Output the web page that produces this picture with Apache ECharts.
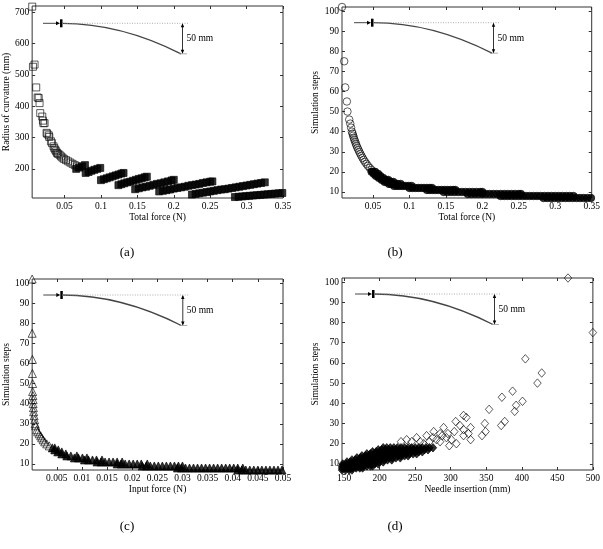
<!DOCTYPE html>
<html>
<head>
<meta charset="utf-8">
<script src="https://cdn.jsdelivr.net/npm/echarts@6/dist/echarts.min.js"></script>
<style>
html, body { margin: 0; padding: 0; background: #fff; }
#chart { width: 603px; height: 549px; }
</style>
</head>
<body>
<div id="chart"></div>
<script>
// ---- data ----
// (a) radius of curvature vs total force
const curvSparse = [
  [0.0056, 718], [0.0088, 533], [0.0066, 526], [0.0111, 460], [0.013, 428], [0.0145, 426],
  [0.0157, 410], [0.0166, 378], [0.0194, 367], [0.0203, 354], [0.021, 346], [0.0226, 346],
  [0.0253, 315], [0.0262, 312], [0.0283, 307], [0.029, 302], [0.0313, 288], [0.0327, 282],
  [0.0349, 272], [0.036, 266], [0.0372, 261], [0.0385, 256], [0.0396, 251], [0.041, 248],
  [0.0431, 245], [0.045, 240], [0.047, 236], [0.049, 232], [0.052, 228], [0.055, 224],
  [0.058, 220], [0.061, 216], [0.064, 212], [0.067, 208]
];
const curvBandForce = [
  [0.066, 0.07, 0.074, 0.078],
  [0.079, 0.083, 0.087, 0.091, 0.095, 0.099],
  [0.1, 0.104, 0.108, 0.112, 0.116, 0.12, 0.124, 0.128, 0.131],
  [0.124, 0.128, 0.132, 0.136, 0.14, 0.144, 0.148, 0.152, 0.156, 0.16, 0.163],
  [0.147, 0.152, 0.157, 0.162, 0.167, 0.172, 0.177, 0.182, 0.187, 0.192, 0.197, 0.2],
  [0.18, 0.185, 0.19, 0.195, 0.2, 0.205, 0.21, 0.215, 0.22, 0.225, 0.23, 0.235, 0.24, 0.245, 0.25, 0.253],
  [0.225, 0.23, 0.235, 0.24, 0.245, 0.25, 0.255, 0.26, 0.265, 0.27, 0.275, 0.28, 0.285, 0.29, 0.295, 0.3, 0.305, 0.31, 0.315, 0.32, 0.325],
  [0.284, 0.289, 0.294, 0.299, 0.304, 0.309, 0.314, 0.319, 0.324, 0.329, 0.334, 0.339, 0.344, 0.349]
];
const curvBandRadius = [
  [200, 204, 208, 212],
  [187, 190, 194, 197, 200, 203],
  [164, 167, 170, 173, 176, 179, 182, 185, 187],
  [148, 151, 154, 157, 159, 162, 165, 168, 170, 173, 175],
  [135, 138, 141, 143, 146, 149, 152, 154, 157, 160, 163, 165],
  [128, 130, 132, 134, 137, 139, 141, 143, 146, 148, 150, 152, 155, 157, 159, 160],
  [118, 120, 122, 124, 126, 128, 130, 132, 134, 135, 137, 139, 141, 143, 145, 147, 149, 151, 153, 155, 157],
  [110, 111, 112, 113, 114, 115, 116, 117, 118, 119, 120, 121, 122, 123]
];

// (b) simulation steps vs total force
const stepsForceSparse = [
  [0.0075, 102], [0.0105, 75], [0.0119, 62], [0.0142, 55], [0.015, 50], [0.0174, 46],
  [0.0188, 44], [0.02, 42], [0.0211, 40], [0.022, 39], [0.0228, 38], [0.0236, 37],
  [0.0245, 36], [0.0255, 35], [0.0265, 34], [0.0275, 33], [0.0287, 32], [0.03, 31],
  [0.0312, 30], [0.0326, 29], [0.034, 28], [0.0356, 27], [0.0372, 26], [0.039, 25],
  [0.041, 24], [0.043, 23], [0.0455, 22], [0.048, 21]
];
const stepsForceLevels = [7, 8, 9, 10, 11, 12, 13, 14, 15, 16, 17, 18, 19, 20];
const stepsForceX = [
  [0.284, 0.289, 0.294, 0.299, 0.304, 0.309, 0.314, 0.319, 0.324, 0.329, 0.334, 0.339, 0.344, 0.349],
  [0.225, 0.23, 0.235, 0.24, 0.245, 0.25, 0.255, 0.26, 0.265, 0.27, 0.275, 0.28, 0.285, 0.29, 0.295, 0.3, 0.305, 0.31, 0.315, 0.32, 0.325],
  [0.18, 0.185, 0.19, 0.195, 0.2, 0.205, 0.21, 0.215, 0.22, 0.225, 0.23, 0.235, 0.24, 0.245, 0.25, 0.253],
  [0.147, 0.152, 0.157, 0.162, 0.167, 0.172, 0.177, 0.182, 0.187, 0.192, 0.197, 0.2],
  [0.124, 0.128, 0.132, 0.136, 0.14, 0.144, 0.148, 0.152, 0.156, 0.16, 0.163],
  [0.1, 0.104, 0.108, 0.112, 0.116, 0.12, 0.124, 0.128, 0.131],
  [0.079, 0.083, 0.087, 0.091, 0.095, 0.099, 0.103],
  [0.072, 0.075, 0.078, 0.081, 0.084, 0.088],
  [0.066, 0.069, 0.072, 0.075, 0.078],
  [0.062, 0.065, 0.068, 0.071],
  [0.058, 0.061, 0.064],
  [0.054, 0.057, 0.06],
  [0.051, 0.054, 0.057],
  [0.048, 0.05, 0.053]
];

// (c) simulation steps vs input force
const stepsInputSparse = [
  [0.0001, 102], [0.0001, 75], [0.00015, 62], [0.00015, 55], [0.0002, 50], [0.0002, 46],
  [0.00025, 44], [0.0003, 42], [0.0003, 40], [0.00035, 38], [0.0004, 36], [0.0005, 34],
  [0.0006, 32], [0.0007, 30], [0.0008, 29], [0.001, 27], [0.0012, 26], [0.0015, 25],
  [0.0018, 24], [0.002, 23], [0.0023, 22], [0.0026, 21], [0.003, 20], [0.0035, 19]
];
const stepsInputLevels = [7, 8, 9, 10, 11, 12, 13, 14, 15, 16, 17, 18];
const stepsInputX = [
  [0.041, 0.0418, 0.0426, 0.0434, 0.0442, 0.045, 0.0458, 0.0466, 0.0474, 0.0482, 0.049, 0.0498],
  [0.029, 0.0298, 0.0306, 0.0314, 0.0322, 0.033, 0.0338, 0.0346, 0.0354, 0.0362, 0.037, 0.0378, 0.0386, 0.0394, 0.0402, 0.041, 0.042],
  [0.022, 0.0228, 0.0236, 0.0244, 0.0252, 0.026, 0.0268, 0.0276, 0.0284, 0.0292, 0.03],
  [0.017, 0.0178, 0.0186, 0.0194, 0.0202, 0.021, 0.0218, 0.023],
  [0.013, 0.0138, 0.0146, 0.0154, 0.0162, 0.017, 0.018],
  [0.0105, 0.0113, 0.0121, 0.0129, 0.014],
  [0.0085, 0.0093, 0.0101, 0.011],
  [0.007, 0.0078, 0.009],
  [0.006, 0.0068],
  [0.0052, 0.006],
  [0.0046, 0.0053],
  [0.0041, 0.0046]
];

// (d) simulation steps vs needle insertion
const stepsInsertSparse = [
  [465, 102], [500, 75], [405, 62], [428, 55], [422, 50], [387, 46], [372, 43], [401, 41],
  [392, 39], [390, 36], [354, 37], [376, 31], [371, 29], [348, 30], [349, 26], [344, 24],
  [318, 34], [322, 33], [307, 31], [328, 28], [325, 25], [328, 22], [318, 27], [313, 29],
  [318, 24], [290, 28], [285, 25], [294, 23], [276, 26], [266, 24], [252, 23], [257, 21],
  [301, 22], [308, 20], [298, 19], [285, 21], [280, 22], [270, 21], [262, 20], [245, 21],
  [238, 22], [230, 21], [305, 26], [296, 25], [288, 24], [275, 23]
];
const stepsInsertLevels = [7, 8, 9, 10, 11, 12, 13, 14, 15, 16, 17, 18];
const stepsInsertX = [
  [147, 152, 157, 161],
  [147, 152, 157, 162, 167, 172, 176],
  [147, 152, 157, 162, 167, 172, 177, 182, 187, 190],
  [148, 153, 158, 163, 168, 173, 178, 183, 188, 193, 198],
  [154, 159, 164, 169, 174, 179, 184, 189, 194, 199, 205],
  [161, 166, 171, 176, 181, 186, 191, 196, 201, 206, 211, 217],
  [168, 173, 178, 183, 188, 193, 198, 203, 208, 213, 218, 223, 229],
  [175, 180, 185, 190, 195, 200, 205, 210, 215, 220, 225, 230, 235, 240],
  [182, 187, 192, 197, 202, 207, 212, 217, 222, 227, 232, 237, 242, 247, 252],
  [190, 195, 200, 205, 210, 215, 220, 225, 230, 235, 240, 245, 250, 255, 260],
  [198, 203, 208, 213, 218, 223, 228, 233, 238, 243, 248, 253, 258, 263, 268],
  [205, 210, 215, 220, 225, 230, 235, 240, 245, 250, 255, 260, 265, 270, 275]
];

// tick positions
const forceTicks = [0.05, 0.1, 0.15, 0.2, 0.25, 0.3, 0.35];
const radiusTicks = [200, 300, 400, 500, 600, 700];
const stepTicks = [10, 20, 30, 40, 50, 60, 70, 80, 90, 100];
const inputTicks = [0.005, 0.01, 0.015, 0.02, 0.025, 0.03, 0.035, 0.04, 0.045, 0.05];
const insertTicks = [150, 200, 250, 300, 350, 400, 450, 500];

// ---- chart ----
const serif = '"Liberation Serif", "Times New Roman", serif';
const frameColor = '#333';

const grids = [
  { left: 32, top: 6, width: 251, height: 192 },
  { left: 342, top: 7, width: 251, height: 191 },
  { left: 32, top: 279, width: 251, height: 191 },
  { left: 342, top: 278, width: 251, height: 192 }
].map(g => ({ ...g, show: true, borderColor: frameColor, borderWidth: 1, backgroundColor: 'transparent' }));

const xAxes = [];
const yAxes = [];
function addAxes(gi, xMin, xMax, xTicks, xName, yMin, yMax, yTicks, yName) {
  const common = { gridIndex: gi, type: 'value', axisLine: { show: false }, splitLine: { show: false } };
  const tick = ticks => ({ show: true, inside: true, length: 3, customValues: ticks, lineStyle: { color: frameColor } });
  const label = ticks => ({ customValues: ticks, color: '#000', fontFamily: serif, fontSize: 9.5, margin: 3 });
  const nameStyle = { color: '#000', fontFamily: serif, fontSize: 9.5 };
  xAxes.push({ ...common, position: 'bottom', min: xMin, max: xMax, axisTick: tick(xTicks), axisLabel: label(xTicks),
    name: xName, nameLocation: 'middle', nameGap: 14, nameTextStyle: nameStyle });
  xAxes.push({ ...common, position: 'top', min: xMin, max: xMax, axisTick: tick(xTicks), axisLabel: { show: false } });
  yAxes.push({ ...common, position: 'left', min: yMin, max: yMax, axisTick: tick(yTicks), axisLabel: label(yTicks),
    name: yName, nameLocation: 'middle', nameGap: 20, nameTextStyle: nameStyle });
  yAxes.push({ ...common, position: 'right', min: yMin, max: yMax, axisTick: tick(yTicks), axisLabel: { show: false } });
}
addAxes(0, 0.0055, 0.35, forceTicks, 'Total force (N)', 107, 720, radiusTicks, 'Radius of curvature (mm)');
addAxes(1, 0.0075, 0.35, forceTicks, 'Total force (N)', 7, 102, stepTicks, 'Simulation steps');
addAxes(2, 0.0001, 0.05, inputTicks, 'Input force (N)', 7, 102, stepTicks, 'Simulation steps');
addAxes(3, 147, 500, insertTicks, 'Needle insertion (mm)', 7, 102, stepTicks, 'Simulation steps');

const hollow = { color: 'rgba(0,0,0,0)', borderColor: '#000', borderWidth: 0.8 };
const solid = { color: '#000', borderColor: '#000', borderWidth: 0.8 };

function bandPoints(xs, ys) {
  const pts = [];
  xs.forEach((row, i) => row.forEach((x, j) => pts.push([x, ys[i][j]])));
  return pts;
}
function levelPoints(levels, xs) {
  const pts = [];
  xs.forEach((row, i) => row.forEach(x => pts.push([x, levels[i]])));
  return pts;
}
function scatter(gi, data, symbol, size, style) {
  return { type: 'scatter', xAxisIndex: gi * 2, yAxisIndex: gi * 2, data, symbol, symbolSize: size,
    itemStyle: style, clip: false, silent: true, animation: false };
}

const series = [
  scatter(0, bandPoints(curvBandForce, curvBandRadius), 'rect', 7, solid),
  scatter(0, curvSparse, 'rect', 7, hollow),
  scatter(1, levelPoints(stepsForceLevels, stepsForceX), 'circle', 7.5, solid),
  scatter(1, stepsForceSparse, 'circle', 7.5, hollow),
  scatter(2, levelPoints(stepsInputLevels, stepsInputX), 'triangle', 8, solid),
  scatter(2, stepsInputSparse, 'triangle', 8, hollow),
  scatter(3, levelPoints(stepsInsertLevels, stepsInsertX), 'diamond', [7.5, 8.5], solid),
  scatter(3, stepsInsertSparse, 'diamond', [7.5, 8.5], hollow)
];

// needle sketch drawn in each panel (pixel units)
function needleSketch(ox, oy) {
  const ink = '#444';
  return [
    { type: 'line', shape: { x1: ox, y1: oy, x2: ox + 15, y2: oy }, style: { stroke: ink, lineWidth: 1 } },
    { type: 'polygon', shape: { points: [[ox + 17, oy], [ox + 13, oy - 2], [ox + 13, oy + 2]] }, style: { fill: '#000' } },
    { type: 'rect', shape: { x: ox + 17, y: oy - 4, width: 2.5, height: 8 }, style: { fill: '#000' } },
    { type: 'bezierCurve', shape: { x1: ox + 19, y1: oy, cpx1: ox + 78, cpy1: oy, x2: ox + 138, y2: oy + 30.5 },
      style: { stroke: ink, lineWidth: 1.3, fill: null } },
    { type: 'line', shape: { x1: ox + 19, y1: oy, x2: ox + 145, y2: oy }, style: { stroke: '#999', lineWidth: 0.8, lineDash: [1, 1.5] } },
    { type: 'line', shape: { x1: ox + 136, y1: oy + 30.5, x2: ox + 144, y2: oy + 30.5 }, style: { stroke: '#999', lineWidth: 0.8 } },
    { type: 'line', shape: { x1: ox + 139.5, y1: oy + 1, x2: ox + 139.5, y2: oy + 29.5 }, style: { stroke: '#000', lineWidth: 0.8 } },
    { type: 'polygon', shape: { points: [[ox + 139.5, oy], [ox + 137.8, oy + 4], [ox + 141.2, oy + 4]] }, style: { fill: '#000' } },
    { type: 'polygon', shape: { points: [[ox + 139.5, oy + 30.5], [ox + 137.8, oy + 26.5], [ox + 141.2, oy + 26.5]] }, style: { fill: '#000' } },
    { type: 'text', x: ox + 143.5, y: oy + 15.5, style: { text: '50 mm', fill: '#000', font: '9.5px ' + serif, textVerticalAlign: 'middle' } }
  ];
}
function caption(cx, cy, t) {
  return { type: 'text', x: cx, y: cy, style: { text: t, fill: '#000', font: '13px ' + serif, textAlign: 'center', textVerticalAlign: 'middle' } };
}

const graphics = [
  ...needleSketch(43, 23.3),
  ...needleSketch(354, 22.7),
  ...needleSketch(43.3, 295),
  ...needleSketch(355, 294),
  caption(127, 253, '(a)'),
  caption(395, 253, '(b)'),
  caption(127, 527, '(c)'),
  caption(395, 527, '(d)')
];

const chart = echarts.init(document.getElementById('chart'), null, { renderer: 'canvas' });
chart.setOption({
  animation: false,
  backgroundColor: '#fff',
  grid: grids,
  xAxis: xAxes,
  yAxis: yAxes,
  series,
  graphic: { elements: graphics }
});
</script>
</body>
</html>
